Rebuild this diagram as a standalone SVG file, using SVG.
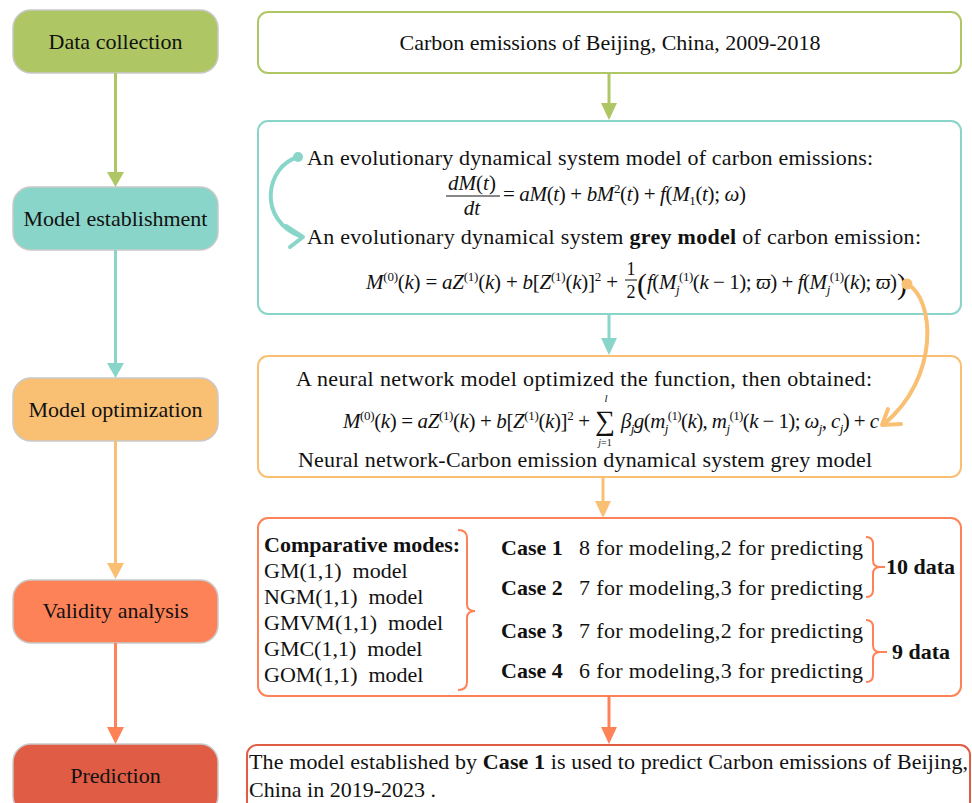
<svg xmlns="http://www.w3.org/2000/svg" width="972" height="803" viewBox="0 0 972 803">
<style>
text{font-family:"Liberation Serif","Times New Roman",serif;fill:#111;}
.t{font-size:22px;}
.b{font-weight:bold;}
.c{text-anchor:middle;}
.fm{font-size:21px;}
.i{font-style:italic;}
.sp{font-size:13px;}
.node{stroke:#c9c9c9;stroke-width:1.5;}
.box{fill:#fff;stroke-width:2;}
.ln{fill:none;stroke-width:3;}
.cv{fill:none;stroke-width:4;stroke-linecap:round;stroke-linejoin:round;}
.br{fill:none;stroke:#fe8257;stroke-width:2;}
</style>
<rect width="972" height="803" fill="#fff"/>

<g id="node-data-collection"><rect class="node" x="13" y="10" width="205" height="63" rx="18" fill="#afc665"/><text class="t c" x="115.5" y="49">Data collection</text></g>
<g id="node-model-establishment"><rect class="node" x="13" y="187" width="205" height="63" rx="18" fill="#8ad5c9"/><text class="t c" x="115.5" y="226">Model establishment</text></g>
<g id="node-model-optimization"><rect class="node" x="13" y="378" width="205" height="63" rx="18" fill="#f9c074"/><text class="t c" x="115.5" y="417">Model optimization</text></g>
<g id="node-validity-analysis"><rect class="node" x="13" y="580" width="205" height="63" rx="18" fill="#fe8257"/><text class="t c" x="115.5" y="618">Validity analysis</text></g>
<g id="node-prediction"><rect class="node" x="13" y="744" width="205" height="70" rx="18" fill="#e05c45"/><text class="t c" x="115.5" y="783">Prediction</text></g>

<g id="box-data"><rect class="box" x="258" y="12" width="703" height="61" rx="10" stroke="#afc665"/><text class="t c" x="610" y="50">Carbon emissions of Beijing, China, 2009-2018</text></g>

<g id="box-establishment"><rect class="box" x="258" y="121" width="703" height="193" rx="10" stroke="#8ad5c9"/>
<text class="t" x="307" y="165" textLength="566">An evolutionary dynamical system model of carbon emissions:</text>
<text class="fm c" x="472" y="190"><tspan class="i">dM</tspan>(<tspan class="i">t</tspan>)</text>
<line x1="446" y1="196" x2="500" y2="196" stroke="#111" stroke-width="1"/>
<text class="fm c" x="472" y="215"><tspan class="i">dt</tspan></text>
<text class="fm" x="503" y="201" textLength="243">= <tspan class="i">aM</tspan>(<tspan class="i">t</tspan>) + <tspan class="i">bM</tspan><tspan class="sp" dy="-8">2</tspan><tspan dy="8">(</tspan><tspan class="i">t</tspan>) + <tspan class="i">f</tspan>(<tspan class="i">M</tspan><tspan class="sp" dy="4">1</tspan><tspan dy="-4">(</tspan><tspan class="i">t</tspan>); <tspan class="i">ω</tspan>)</text>
<text class="t" x="307" y="244" textLength="614">An evolutionary dynamical system <tspan class="b">grey model</tspan> of carbon emission:</text>
<text class="fm" x="366" y="289" textLength="252"><tspan class="i">M</tspan><tspan class="sp" dy="-8">(0)</tspan><tspan dy="8">(</tspan><tspan class="i">k</tspan>) = <tspan class="i">aZ</tspan><tspan class="sp" dy="-8">(1)</tspan><tspan dy="8">(</tspan><tspan class="i">k</tspan>) + <tspan class="i">b</tspan>[<tspan class="i">Z</tspan><tspan class="sp" dy="-8">(1)</tspan><tspan dy="8">(</tspan><tspan class="i">k</tspan>)]<tspan class="sp" dy="-8">2</tspan><tspan dy="8"> +</tspan></text>
<text class="c" x="631" y="275" style="font-size:18px">1</text>
<line x1="625" y1="280" x2="637" y2="280" stroke="#111" stroke-width="1"/>
<text class="c" x="631" y="298" style="font-size:18px">2</text>
<text x="637" y="294" style="font-size:30px">(</text>
<text class="fm" x="647" y="289" textLength="250"><tspan class="i">f</tspan>(<tspan class="i">M</tspan><tspan class="sp i" dy="5">j</tspan><tspan class="sp" dy="-13">(1)</tspan><tspan dy="8">(</tspan><tspan class="i">k</tspan> − 1); <tspan class="i">ϖ</tspan>) + <tspan class="i">f</tspan>(<tspan class="i">M</tspan><tspan class="sp i" dy="5">j</tspan><tspan class="sp" dy="-13">(1)</tspan><tspan dy="8">(</tspan><tspan class="i">k</tspan>); <tspan class="i">ϖ</tspan>)</text>
<text x="897" y="294" style="font-size:30px">)</text>
</g>

<g id="box-optimization"><rect class="box" x="258" y="356" width="703" height="121" rx="10" stroke="#f9c074"/>
<text class="t" x="296" y="386" textLength="576">A neural network model optimized the function, then obtained:</text>
<text class="fm" x="343" y="428" textLength="247"><tspan class="i">M</tspan><tspan class="sp" dy="-8">(0)</tspan><tspan dy="8">(</tspan><tspan class="i">k</tspan>) = <tspan class="i">aZ</tspan><tspan class="sp" dy="-8">(1)</tspan><tspan dy="8">(</tspan><tspan class="i">k</tspan>) + <tspan class="i">b</tspan>[<tspan class="i">Z</tspan><tspan class="sp" dy="-8">(1)</tspan><tspan dy="8">(</tspan><tspan class="i">k</tspan>)]<tspan class="sp" dy="-8">2</tspan><tspan dy="8"> +</tspan></text>
<text class="c" x="605" y="430" style="font-size:28px">∑</text>
<text class="c i" x="606" y="402" style="font-size:11px">l</text>
<text class="c" x="605" y="446" style="font-size:10px"><tspan class="i">j</tspan>=1</text>
<text class="fm" x="621" y="428" textLength="258"><tspan class="i">β</tspan><tspan class="sp i" dy="5">j</tspan><tspan class="i" dy="-5">g</tspan>(<tspan class="i">m</tspan><tspan class="sp i" dy="5">j</tspan><tspan class="sp" dy="-13">(1)</tspan><tspan dy="8">(</tspan><tspan class="i">k</tspan>), <tspan class="i">m</tspan><tspan class="sp i" dy="5">j</tspan><tspan class="sp" dy="-13">(1)</tspan><tspan dy="8">(</tspan><tspan class="i">k</tspan> − 1); <tspan class="i">ω</tspan><tspan class="sp i" dy="5">j</tspan><tspan dy="-5">, </tspan><tspan class="i">c</tspan><tspan class="sp i" dy="5">j</tspan><tspan dy="-5">) + </tspan><tspan class="i">c</tspan></text>
<text class="t" x="298" y="467" textLength="574">Neural network-Carbon emission dynamical system grey model</text>
</g>

<g id="box-validity"><rect class="box" x="258" y="518" width="703" height="178" rx="10" stroke="#fe8257"/>
<text class="t b" x="264" y="552">Comparative modes:</text>
<text class="t" x="264" y="578">GM(1,1)&#160; model</text>
<text class="t" x="264" y="604">NGM(1,1)&#160; model</text>
<text class="t" x="264" y="630">GMVM(1,1)&#160; model</text>
<text class="t" x="264" y="656">GMC(1,1)&#160; model</text>
<text class="t" x="264" y="682">GOM(1,1)&#160; model</text>
<path class="br" d="M458 530 Q467 530 467 538 L467 604 Q467 611 475 611 Q467 611 467 618 L467 682 Q467 690 458 690"/>
<text class="t b" x="501" y="555">Case 1</text><text class="t" x="579" y="555" textLength="284">8 for modeling,2 for predicting</text>
<text class="t b" x="501" y="595">Case 2</text><text class="t" x="579" y="595" textLength="284">7 for modeling,3 for predicting</text>
<text class="t b" x="501" y="638">Case 3</text><text class="t" x="579" y="638" textLength="284">7 for modeling,2 for predicting</text>
<text class="t b" x="501" y="678">Case 4</text><text class="t" x="579" y="678" textLength="284">6 for modeling,3 for predicting</text>
<path class="br" d="M866 537 Q873 537 873 544 L873 560 Q873 567 880 567 L885 567 M880 567 Q873 567 873 574 L873 590 Q873 597 866 597"/>
<text class="t b" x="886" y="574">10 data</text>
<path class="br" d="M866 620 Q873 620 873 627 L873 645 Q873 652 880 652 L887 652 M880 652 Q873 652 873 659 L873 675 Q873 682 866 682"/>
<text class="t b" x="892" y="659">9 data</text>
</g>

<g id="box-prediction"><rect class="box" x="247" y="745" width="723" height="70" rx="10" stroke="#e05c45"/>
<text class="t" x="249" y="769" textLength="719">The model established by <tspan class="b">Case 1</tspan> is used to predict Carbon emissions of Beijing,</text>
<text class="t" x="249" y="797">China in 2019-2023 .</text>
</g>

<g id="connectors">
<line class="ln" x1="115.5" y1="73" x2="115.5" y2="174" stroke="#afc665"/><polygon points="107,172 124,172 115.5,187" fill="#afc665"/>
<line class="ln" x1="115.5" y1="250" x2="115.5" y2="365" stroke="#8ad5c9"/><polygon points="107,363 124,363 115.5,378" fill="#8ad5c9"/>
<line class="ln" x1="115.5" y1="441" x2="115.5" y2="565" stroke="#f9c074"/><polygon points="107,563 124,563 115.5,579" fill="#f9c074"/>
<line class="ln" x1="115.5" y1="643" x2="115.5" y2="729" stroke="#fe8257"/><polygon points="107,727 124,727 115.5,744" fill="#fe8257"/>
<line class="ln" x1="609" y1="73" x2="609" y2="105" stroke="#afc665" stroke-width="4"/><polygon points="601,103 617,103 609,120" fill="#afc665"/>
<line class="ln" x1="609" y1="314" x2="609" y2="340" stroke="#8ad5c9" stroke-width="4"/><polygon points="601,338 617,338 609,355" fill="#8ad5c9"/>
<line class="ln" x1="603" y1="477" x2="603" y2="503" stroke="#f9c074" stroke-width="4"/><polygon points="595,501 611,501 603,518" fill="#f9c074"/>
<line class="ln" x1="609" y1="696" x2="609" y2="729" stroke="#fe8257" stroke-width="4"/><polygon points="601,727 617,727 609,744" fill="#fe8257"/>
<circle cx="298" cy="157" r="5" fill="#8ad5c9"/>
<path class="cv" stroke="#8ad5c9" d="M298 157 C266 166 256 220 302 237"/>
<path class="cv" stroke="#8ad5c9" d="M286 226 L303 237 L290 247"/>
<circle cx="907" cy="284" r="5.5" fill="#f9c074"/>
<path class="cv" stroke="#f9c074" d="M907 284 C935 298 940 378 884 424"/>
<path class="cv" stroke="#f9c074" d="M888 409 L882 425 L901 424"/>
</g>
</svg>
